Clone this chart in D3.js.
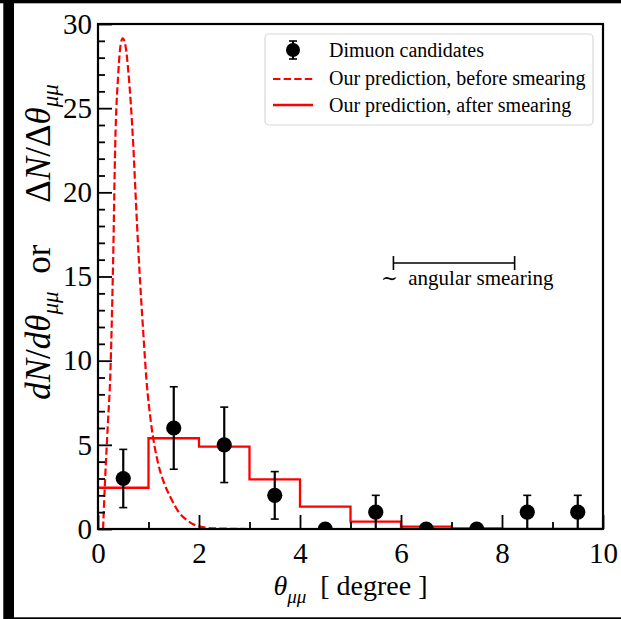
<!DOCTYPE html>
<html><head><meta charset="utf-8">
<script src="https://cdn.jsdelivr.net/npm/d3@7"></script>
<style>
html,body{margin:0;padding:0;background:#fff;}
svg{display:block;font-family:"Liberation Serif","Times New Roman",serif;}
svg text, svg tspan{font-family:"Liberation Serif","Times New Roman",serif;}
</style></head>
<body>
<svg id="chart" width="621" height="619"></svg>
<script>
// ---- data ----
const binCenters = [0.5,1.5,2.5,3.5,4.5,5.5,6.5,7.5,8.5,9.5];
const counts     = [3,6,5,2,0,1,0,0,1,1];
const countErr   = [1.73,2.45,2.24,1.41,0,1,0,0,1,1];
const binEdges   = [0,1,2,3,4,5,6,7,8,9,10];
const smeared    = [2.45,5.39,4.89,2.95,1.33,0.44,0.14,0.03,0.01,0.0];
const curveTheta = [0.10,0.14,0.20,0.24,0.30,0.34,0.40,0.45,0.49,0.55,0.60,0.70,0.75,0.80,0.90,0.96,1.05,1.19,1.30,1.43,1.60,1.76,2.02,2.30,3.00,10.0];
const curveVal   = [0.0,2.9,6.5,8.85,16.0,22.7,27.0,28.8,29.15,28.6,27.2,22.7,19.5,16.5,11.5,8.85,6.3,3.9,2.8,1.92,1.0,0.53,0.14,0.04,0.0,0.0];
const xMajor = [0,2,4,6,8,10];
const xMinor = [1,3,5,7,9];
const yMajor = [0,5,10,15,20,25,30];
const yMinor = d3.range(1,30).filter(v => v % 5 !== 0);
const smearBar = [5.85, 8.25];
const smearY = 15.8;
const legendLabels = ["Dimuon candidates","Our prediction, before smearing","Our prediction, after smearing"];

// ---- layout ----
const svg = d3.select("#chart");
const L = 98, R = 603, T = 24, B = 529;
const x = d3.scaleLinear().domain([0,10]).range([L,R]);
const y = d3.scaleLinear().domain([0,30]).range([B,T]);
const RED = "#ff0000";
const SERIF = "'Liberation Serif','Times New Roman',serif";

// outer frame decoration
svg.append("rect").attr("x",0).attr("y",0).attr("width",621).attr("height",3.3).attr("fill","#000");
svg.append("rect").attr("x",3.3).attr("y",0).attr("width",10.7).attr("height",619).attr("fill","#000");
svg.append("rect").attr("x",14).attr("y",617.3).attr("width",607).attr("height",1.7).attr("fill","#000");

svg.append("defs").append("clipPath").attr("id","clip")
  .append("rect").attr("x",L).attr("y",T).attr("width",R-L).attr("height",B-T);

const plot = svg.append("g").attr("clip-path","url(#clip)");

// dashed curve (before smearing)
const curvePts = curveTheta.map((t,i)=>[t,curveVal[i]]);
plot.append("path").datum(curvePts)
  .attr("d", d3.line().x(d=>x(d[0])).y(d=>y(d[1])).curve(d3.curveMonotoneX))
  .attr("fill","none").attr("stroke",RED).attr("stroke-width",2.2)
  .attr("stroke-dasharray","7.4,3.2");

// step histogram (after smearing)
const stepPts = binEdges.map((e,i)=>[e, smeared[Math.min(i, smeared.length-1)]]);
plot.append("path").datum(stepPts)
  .attr("d", d3.line().x(d=>x(d[0])).y(d=>y(d[1])).curve(d3.curveStepAfter))
  .attr("fill","none").attr("stroke",RED).attr("stroke-width",2.3);

// data points with error bars
const pts = binCenters.map((c,i)=>({c, n:counts[i], e:countErr[i]}));
const eb = plot.append("g");
pts.filter(d=>d.e>0).forEach(d=>{
  eb.append("line").attr("x1",x(d.c)).attr("x2",x(d.c)).attr("y1",y(d.n-d.e)).attr("y2",y(d.n+d.e))
    .attr("stroke","#000").attr("stroke-width",2.2);
  [d.n-d.e, d.n+d.e].forEach(v=>{
    eb.append("line").attr("x1",x(d.c)-4).attr("x2",x(d.c)+4).attr("y1",y(v)).attr("y2",y(v))
      .attr("stroke","#000").attr("stroke-width",1.6);
  });
});
plot.append("g").selectAll("circle").data(pts).join("circle")
  .attr("cx",d=>x(d.c)).attr("cy",d=>y(d.n)).attr("r",7.6).attr("fill","#000");

// axes
function styleAxis(g){
  g.attr("font-family",null).attr("font-size",null).style("font-family",SERIF);
  g.select(".domain").remove();
  g.selectAll(".tick line").attr("stroke","#000").attr("stroke-width",1.8);
  g.selectAll(".tick text").attr("fill","#000").style("font-size","29px").style("font-family",SERIF);
}
svg.append("g").attr("transform",`translate(0,${B})`)
  .call(d3.axisBottom(x).tickValues(xMajor).tickSize(-14).tickPadding(13).tickFormat(d3.format("d")))
  .call(styleAxis);
svg.append("g").attr("transform",`translate(0,${B})`)
  .call(d3.axisBottom(x).tickValues(xMinor).tickSize(-7).tickFormat(""))
  .call(styleAxis);
svg.append("g").attr("transform",`translate(${L},0)`)
  .call(d3.axisLeft(y).tickValues(yMajor).tickSize(-14).tickPadding(6).tickFormat(d3.format("d")))
  .call(styleAxis);
svg.append("g").attr("transform",`translate(${L},0)`)
  .call(d3.axisLeft(y).tickValues(yMinor).tickSize(-7).tickFormat(""))
  .call(styleAxis);

// frame
svg.append("rect").attr("x",L).attr("y",T).attr("width",R-L).attr("height",B-T)
  .attr("fill","none").attr("stroke","#000").attr("stroke-width",2.2);

// x label
const xl = svg.append("text").attr("x",(L+R)/2).attr("y",595).attr("text-anchor","middle")
  .style("font-family",SERIF).attr("font-size","28px").attr("fill","#000");
xl.append("tspan").attr("font-style","italic").text("θ");
xl.append("tspan").attr("font-style","italic").attr("font-size","19px").attr("dy",8).text("μμ");
xl.append("tspan").attr("dy",-8).text("\u00a0\u00a0[ degree ]");

// y label
const yl = svg.append("text").attr("transform","translate(50,242) rotate(-90)")
  .style("font-family",SERIF).attr("text-anchor","middle").attr("font-size","35px").attr("fill","#000");
yl.append("tspan").attr("font-style","italic").text("dN");
yl.append("tspan").text("/");
yl.append("tspan").attr("font-style","italic").text("dθ");
yl.append("tspan").attr("font-style","italic").attr("font-size","23px").attr("dy",8).text("μμ");
yl.append("tspan").attr("dy",-8).text("\u2002or\u2003\u2009");
yl.append("tspan").text("Δ");
yl.append("tspan").attr("font-style","italic").text("N");
yl.append("tspan").text("/Δ");
yl.append("tspan").attr("font-style","italic").text("θ");
yl.append("tspan").attr("font-style","italic").attr("font-size","23px").attr("dy",8).text("μμ");

// angular smearing bar
const sy = y(smearY);
svg.append("line").attr("x1",x(smearBar[0])).attr("x2",x(smearBar[1])).attr("y1",sy).attr("y2",sy)
  .attr("stroke","#000").attr("stroke-width",1.6);
smearBar.forEach(v=>svg.append("line").attr("x1",x(v)).attr("x2",x(v)).attr("y1",sy-7).attr("y2",sy+7)
  .attr("stroke","#000").attr("stroke-width",1.6));
const st = svg.append("text").attr("x",381).attr("y",sy+22).style("font-family",SERIF)
  .attr("font-size","21px").attr("fill","#000");
st.append("tspan").style("font-family","'DejaVu Serif',serif").attr("font-size","20px").text("∼");
st.append("tspan").text("\u2002angular smearing");

// legend
const lg = svg.append("g");
lg.append("rect").attr("x",265).attr("y",34).attr("width",328).attr("height",91).attr("rx",4)
  .attr("fill","#fff").attr("stroke","#d8d8d8").attr("stroke-width",1.2);
const rowY = [50, 79, 105];
const lx0 = 273, lx1 = 313, lxm = 293;
lg.append("line").attr("x1",lxm).attr("x2",lxm).attr("y1",rowY[0]-9).attr("y2",rowY[0]+9)
  .attr("stroke","#000").attr("stroke-width",2);
[rowY[0]-9,rowY[0]+9].forEach(v=>lg.append("line").attr("x1",lxm-4).attr("x2",lxm+4).attr("y1",v).attr("y2",v)
  .attr("stroke","#000").attr("stroke-width",1.6));
lg.append("circle").attr("cx",lxm).attr("cy",rowY[0]).attr("r",7).attr("fill","#000");
lg.append("line").attr("x1",lx0).attr("x2",lx1).attr("y1",rowY[1]).attr("y2",rowY[1])
  .attr("stroke",RED).attr("stroke-width",2.2).attr("stroke-dasharray","7.4,3.2");
lg.append("line").attr("x1",lx0).attr("x2",lx1).attr("y1",rowY[2]).attr("y2",rowY[2])
  .attr("stroke",RED).attr("stroke-width",2.3);
legendLabels.forEach((t,i)=>{
  lg.append("text").attr("x",329).attr("y",[57,85,111.5][i]).style("font-family",SERIF)
    .attr("font-size","20px").attr("fill","#000").text(t);
});
</script>
</body></html>
